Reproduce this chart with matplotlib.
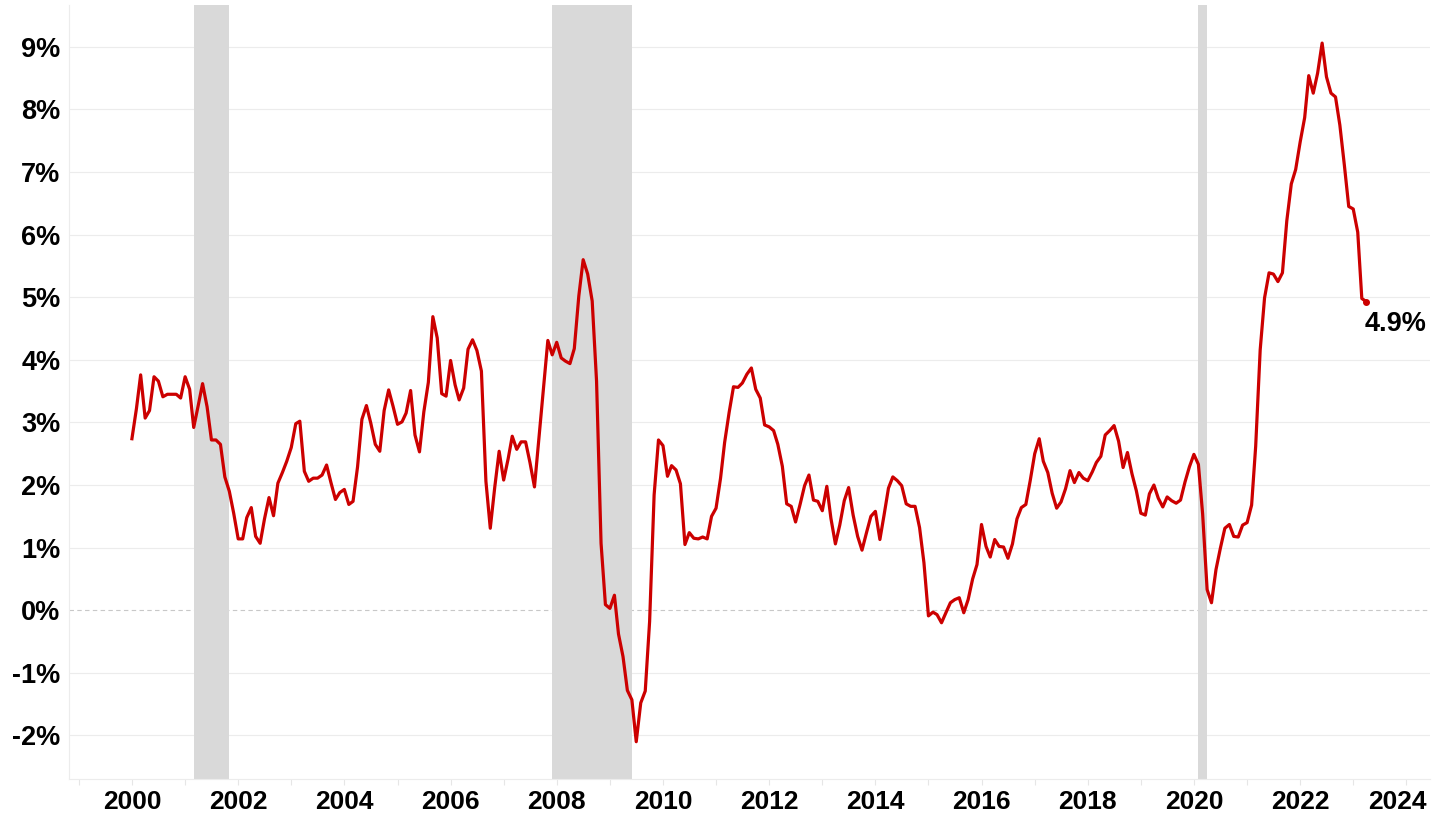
import matplotlib
matplotlib.use('Agg')
import matplotlib.pyplot as plt
import matplotlib.dates as mdates
import matplotlib.ticker as mticker
import matplotlib.transforms as mtransforms
import numpy as np
import pandas as pd

# US CPI, year-over-year change (%), monthly Jan 2000 .. Apr 2023
cpi_yoy = [
	2.74, 3.22, 3.76, 3.07, 3.19, 3.73, 3.66, 3.41, 3.45, 3.45, 3.45, 3.39,   # 2000
	3.73, 3.53, 2.92, 3.27, 3.62, 3.25, 2.72, 2.72, 2.65, 2.13, 1.90, 1.55,   # 2001
	1.14, 1.14, 1.48, 1.64, 1.18, 1.07, 1.46, 1.80, 1.51, 2.03, 2.20, 2.38,   # 2002
	2.60, 2.98, 3.02, 2.22, 2.06, 2.11, 2.11, 2.16, 2.32, 2.04, 1.77, 1.88,   # 2003
	1.93, 1.69, 1.74, 2.29, 3.05, 3.27, 2.99, 2.65, 2.54, 3.19, 3.52, 3.26,   # 2004
	2.97, 3.01, 3.15, 3.51, 2.80, 2.53, 3.17, 3.64, 4.69, 4.35, 3.46, 3.42,   # 2005
	3.99, 3.60, 3.36, 3.55, 4.17, 4.32, 4.15, 3.82, 2.06, 1.31, 1.97, 2.54,   # 2006
	2.08, 2.42, 2.78, 2.57, 2.69, 2.69, 2.36, 1.97, 2.76, 3.54, 4.31, 4.08,   # 2007
	4.28, 4.03, 3.98, 3.94, 4.18, 5.02, 5.60, 5.37, 4.94, 3.66, 1.07, 0.09,   # 2008
	0.03, 0.24, -0.38, -0.74, -1.28, -1.43, -2.10, -1.48, -1.29, -0.18, 1.84, 2.72,  # 2009
	2.63, 2.14, 2.31, 2.24, 2.02, 1.05, 1.24, 1.15, 1.14, 1.17, 1.14, 1.50,   # 2010
	1.63, 2.11, 2.68, 3.16, 3.57, 3.56, 3.63, 3.77, 3.87, 3.53, 3.39, 2.96,   # 2011
	2.93, 2.87, 2.65, 2.30, 1.70, 1.66, 1.41, 1.69, 1.99, 2.16, 1.76, 1.74,   # 2012
	1.59, 1.98, 1.47, 1.06, 1.36, 1.75, 1.96, 1.52, 1.18, 0.96, 1.24, 1.50,   # 2013
	1.58, 1.13, 1.51, 1.95, 2.13, 2.07, 1.99, 1.70, 1.66, 1.66, 1.32, 0.76,   # 2014
	-0.09, -0.03, -0.07, -0.20, -0.04, 0.12, 0.17, 0.20, -0.04, 0.17, 0.50, 0.73,  # 2015
	1.37, 1.02, 0.85, 1.13, 1.02, 1.01, 0.83, 1.06, 1.46, 1.64, 1.69, 2.07,   # 2016
	2.50, 2.74, 2.38, 2.20, 1.87, 1.63, 1.73, 1.94, 2.23, 2.04, 2.20, 2.11,   # 2017
	2.07, 2.21, 2.36, 2.46, 2.80, 2.87, 2.95, 2.70, 2.28, 2.52, 2.18, 1.91,   # 2018
	1.55, 1.52, 1.86, 2.00, 1.79, 1.65, 1.81, 1.75, 1.71, 1.76, 2.05, 2.29,   # 2019
	2.49, 2.33, 1.54, 0.33, 0.12, 0.65, 0.99, 1.31, 1.37, 1.18, 1.17, 1.36,   # 2020
	1.40, 1.68, 2.62, 4.16, 4.99, 5.39, 5.37, 5.25, 5.39, 6.22, 6.81, 7.04,   # 2021
	7.48, 7.87, 8.54, 8.26, 8.58, 9.06, 8.52, 8.26, 8.20, 7.75, 7.11, 6.45,   # 2022
	6.41, 6.04, 4.98, 4.93,                                                   # 2023
]
months = pd.date_range('2000-01-01', periods=len(cpi_yoy), freq='MS')

# NBER recessions (start, end)
recessions = [
	('2001-03-01', '2001-11-01'),
	('2007-12-01', '2009-06-01'),
	('2020-02-01', '2020-04-01'),
]

yticks = np.arange(-2, 10)

plt.rcParams['font.family'] = ['Liberation Sans', 'DejaVu Sans']
plt.rcParams['font.weight'] = 'bold'

fig = plt.figure(figsize=(14.34, 8.16), dpi=100)
ax = fig.add_axes([0.048, 0.045, 0.949, 0.949])

for start, end in recessions:
	ax.axvspan(pd.Timestamp(start), pd.Timestamp(end), color='#d9d9d9', lw=0, zorder=1)

for v in yticks:
	if v == 0:
		ax.axhline(v, color='#c8c8c8', lw=0.8, ls=(0, (4, 3)), zorder=0)
	else:
		ax.axhline(v, color='#ececec', lw=0.8, zorder=0)

ax.plot(months, cpi_yoy, color='#cc0000', lw=2.3, zorder=3, solid_joinstyle='round')
ax.plot(months[-1], cpi_yoy[-1], 'o', color='#cc0000', ms=4, zorder=4)
ax.annotate('%.1f%%' % cpi_yoy[-1], (months[-1], cpi_yoy[-1]),
		xytext=(-1, -7), textcoords='offset points',
		ha='left', va='top', fontsize=19.5, fontweight='bold', color='black')

ax.set_xlim(pd.Timestamp('1998-10-24'), pd.Timestamp('2024-06-10'))
ax.set_ylim(-2.7, 9.67)

ax.set_yticks(yticks)
ax.yaxis.set_major_formatter(mticker.FuncFormatter(lambda v, p: '%d%%' % v))
ax.tick_params(axis='y', length=0, pad=6, labelsize=19.5)

ax.xaxis.set_major_locator(mdates.YearLocator(1))
ax.xaxis.set_major_formatter(mticker.FuncFormatter(
	lambda v, p: str(mdates.num2date(v).year) if mdates.num2date(v).year % 2 == 0 else ''))
ax.tick_params(axis='x', length=4, color='#e6e6e6', pad=4, labelsize=19)

for s in ['top', 'right']:
	ax.spines[s].set_visible(False)
for s in ['left', 'bottom']:
	ax.spines[s].set_color('#ececec')
	ax.spines[s].set_linewidth(0.8)

# last year label is nudged left so it stays inside the figure
fig.canvas.draw()
shift = mtransforms.ScaledTranslation(-9 / 100, 0, fig.dpi_scale_trans)
for lbl in ax.get_xticklabels():
	if lbl.get_text() == '2024':
		lbl.set_transform(lbl.get_transform() + shift)

fig.savefig('out.png', dpi=100)
